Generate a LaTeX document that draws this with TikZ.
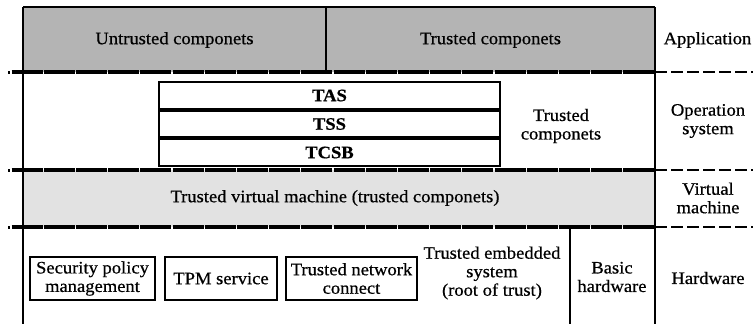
\documentclass[tikz,border=0pt]{standalone}
\usepackage{fontspec}
\setmainfont{Liberation Serif}[FakeStretch=1.06,FakeBold=0.6]
\definecolor{appgray}{RGB}{180,180,180}
\definecolor{vmgray}{RGB}{226,226,226}
\tikzset{
  sepline/.style={line width=3.4pt, dash pattern=on 31pt off 1.2pt},
  sepout/.style={line width=2.8pt, dash pattern=on 12pt off 4pt},
  frameline/.style={line width=2.3pt},
  boxnode/.style={draw, line width=2pt, inner sep=1pt, align=center},
  lbl/.style={align=center},
}
\begin{document}
\begin{tikzpicture}[x=1pt,y=-1pt,font=\fontsize{17.5}{18.5}\selectfont]
\useasboundingbox (0,0) rectangle (753,324);
% bands
\fill[appgray] (23,7) rectangle (655,72);
\fill[vmgray] (23,170) rectangle (655,227);
% frame lines
\draw[frameline] (23,7) -- (655,7);
\draw[frameline] (23,7) -- (23,324);
\draw[frameline] (655,7) -- (655,324);
\draw[frameline] (326,7) -- (326,72);
\draw[frameline] (570,227) -- (570,324);
% separators
\foreach \yy in {72,170,227}{
  \draw[line width=3pt] (8,\yy) -- (9.5,\yy);
  \draw[sepline] (11.5,\yy) -- (655,\yy);
  \draw[sepout] (655,\yy) -- (753,\yy);
}
% application row
\node[lbl] (untr) at (174.5,40) {Untrusted componets};
\node[lbl] (trapp) at (490.5,40) {Trusted componets};
\node[lbl, inner sep=0pt] (app) at (707.5,40) {Application};
% OS row
\node[boxnode, minimum width=341pt, minimum height=27pt, anchor=north west] (tas) at (158,81) {\bfseries TAS};
\node[boxnode, minimum width=341pt, minimum height=26pt, anchor=north] (tss) at (tas.south) {\bfseries TSS};
\node[boxnode, minimum width=341pt, minimum height=27pt, anchor=north] (tcsb) at (tss.south) {\bfseries TCSB};
\node[lbl] (tros) at (561,126) {Trusted\\componets};
\node[lbl] (os) at (708,121) {Operation\\system};
% VM row
\node[lbl] (tvm) at (335,198) {Trusted virtual machine (trusted componets)};
\node[lbl] (vm) at (708,198) {Virtual\\machine};
% hardware row
\node[boxnode, minimum width=125pt, minimum height=43pt] (spm) at (92.5,278.5) {Security policy\\management};
\node[boxnode, minimum width=112pt, minimum height=43pt] (tpm) at (221,278.5) {TPM service};
\node[boxnode, minimum width=131pt, minimum height=43pt] (tnc) at (351.5,278.5) {Trusted network\\connect};
\node[lbl] (tes) at (492,273) {Trusted embedded\\system\\(root of trust)};
\node[lbl] (basic) at (612,277) {Basic\\hardware};
\node[lbl] (hw) at (708,278) {Hardware};
\end{tikzpicture}
\end{document}
